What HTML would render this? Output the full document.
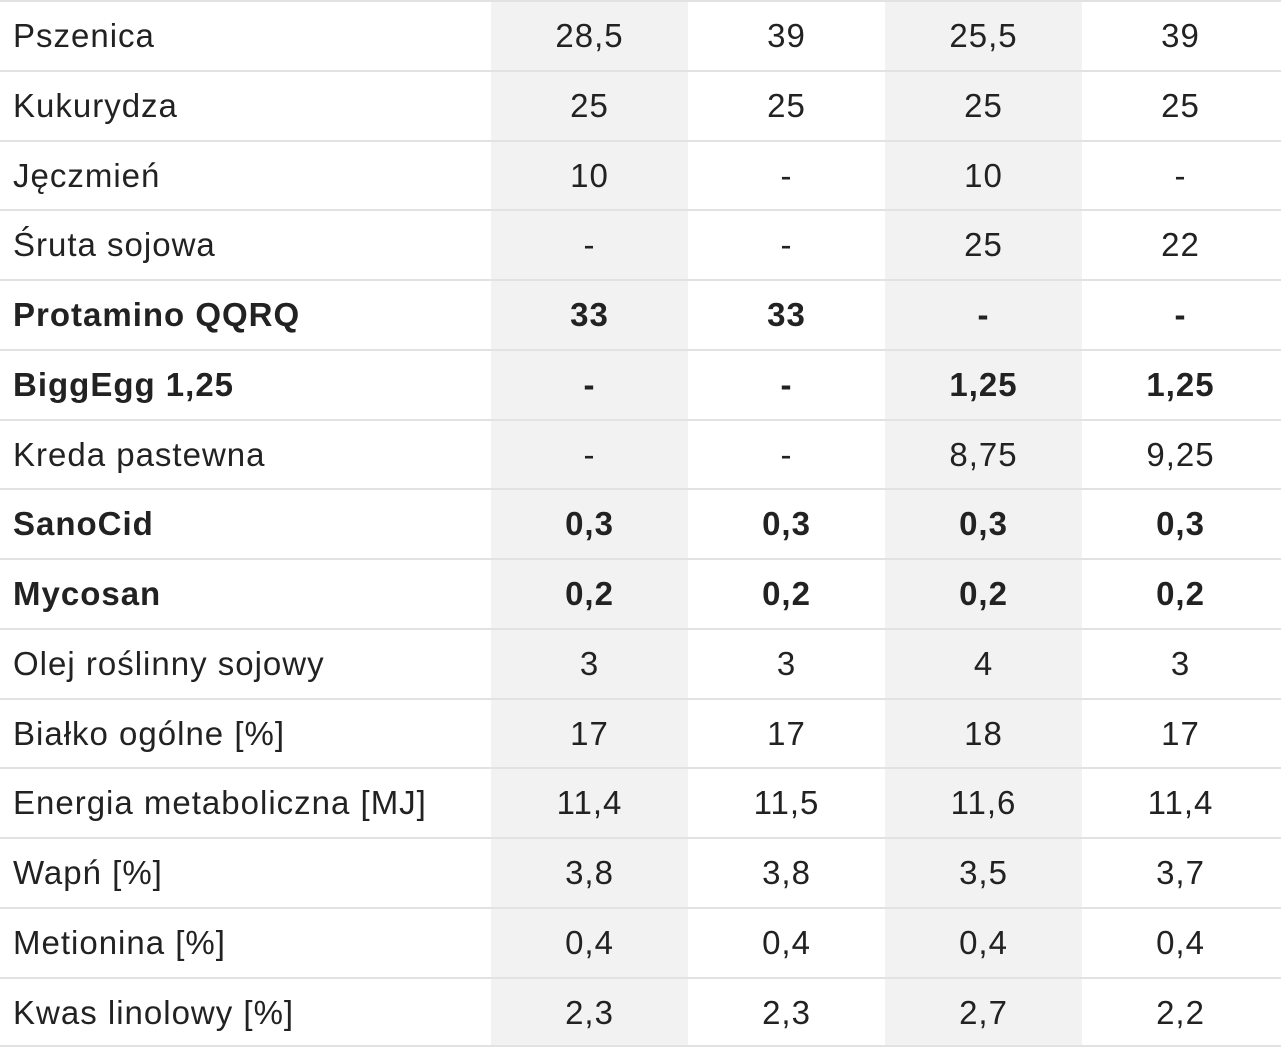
<!DOCTYPE html>
<html><head><meta charset="utf-8"><style>
body{margin:0;width:1281px;height:1047px;background:#fff;overflow:hidden;font-family:"Liberation Sans",sans-serif;color:#222;}
.shade{position:absolute;top:0;height:1047px;background:#f2f2f3;}
.row{position:absolute;left:0;width:1281px;height:69.75px;border-top:2px solid #e2e2e2;box-sizing:border-box;font-size:33px;letter-spacing:1px;}
.row div{position:absolute;top:0;height:68px;line-height:68px;}
.l{left:13px;}
.c{text-align:center;width:197px;}
.b{font-weight:bold;}
</style></head><body>
<div class="shade" style="left:491px;width:197px"></div>
<div class="shade" style="left:885px;width:197px"></div>
<div id="t"></div>
<script>
const rows=[
["Pszenica","28,5","39","25,5","39",0],
["Kukurydza","25","25","25","25",0],
["Jęczmień","10","-","10","-",0],
["Śruta sojowa","-","-","25","22",0],
["Protamino QQRQ","33","33","-","-",1],
["BiggEgg 1,25","-","-","1,25","1,25",1],
["Kreda pastewna","-","-","8,75","9,25",0],
["SanoCid","0,3","0,3","0,3","0,3",1],
["Mycosan","0,2","0,2","0,2","0,2",1],
["Olej roślinny sojowy","3","3","4","3",0],
["Białko ogólne [%]","17","17","18","17",0],
["Energia metaboliczna [MJ]","11,4","11,5","11,6","11,4",0],
["Wapń [%]","3,8","3,8","3,5","3,7",0],
["Metionina [%]","0,4","0,4","0,4","0,4",0],
["Kwas linolowy [%]","2,3","2,3","2,7","2,2",0]];
const xs=[491,688,885,1082];let h="";
rows.forEach((r,i)=>{h+=`<div class="row${r[5]?' b':''}" style="top:${(i*69.75).toFixed(2)}px"><div class="l">${r[0]}</div>`;
for(let j=0;j<4;j++)h+=`<div class="c" style="left:${xs[j]}px">${r[j+1]}</div>`;h+="</div>";});
h+=`<div class="row" style="top:1045px;height:2px"></div>`;
document.getElementById("t").innerHTML=h;
</script>
</body></html>
